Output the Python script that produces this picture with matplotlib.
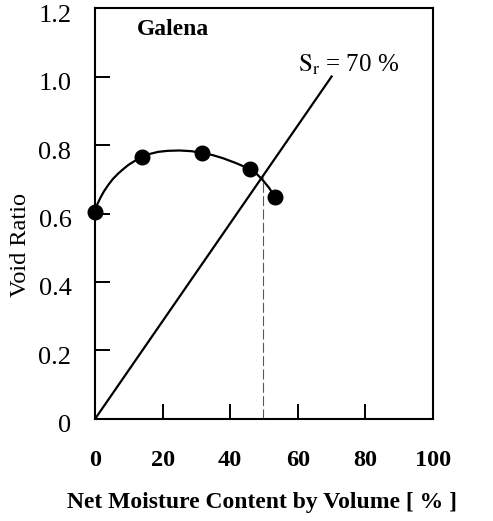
import numpy as np
import matplotlib
matplotlib.use('Agg')
import matplotlib.pyplot as plt
import matplotlib.transforms as mtransforms

plt.rcParams['font.family'] = ['Liberation Serif', 'DejaVu Serif']
plt.rcParams['mathtext.fontset'] = 'stix'

# compaction test points (net moisture by volume %, void ratio)
moist = [0.0, 14.0, 31.7, 45.8, 53.3]
void = [0.605, 0.766, 0.777, 0.730, 0.647]

# fitted curve through the test points
curve_x = [0.0, 0.6, 1.5, 2.6, 3.9, 5.3, 6.9, 8.4, 9.9, 12.0, 14.0, 16.2, 18.7,
           21.5, 25.0, 28.5, 31.7, 35.0, 38.0, 41.5, 45.8, 47.8, 49.5, 51.5, 53.3]
curve_y = [0.605, 0.625, 0.644, 0.664, 0.683, 0.701, 0.717, 0.730, 0.742, 0.755, 0.766, 0.774, 0.780,
           0.783, 0.784, 0.782, 0.777, 0.770, 0.761, 0.748, 0.730, 0.716, 0.699, 0.675, 0.647]

# degree of saturation line Sr = 70 %
sr_x = [0.0, 70.0]
sr_y = [0.0, 1.0]

# moisture content at intersection
w_opt = 49.7
e_opt = 0.707

xticks = [0, 20, 40, 60, 80, 100]
yticks = [0, 0.2, 0.4, 0.6, 0.8, 1.0, 1.2]
ylabels = ['0', '0.2', '0.4', '0.6', '0.8', '1.0', '1.2']

fig = plt.figure(figsize=(4.93, 5.21), dpi=100)
ax = fig.add_axes([0.1927, 0.1958, 0.6856, 0.7888])

ax.plot(curve_x, curve_y, 'k-', lw=1.6, solid_joinstyle='round')
ax.plot(moist, void, 'ko', ms=10.5, clip_on=False)
ax.plot(sr_x, sr_y, 'k-', lw=1.6)
ax.plot([w_opt, w_opt], [0, e_opt], color='0.35', lw=0.8, ls=(0, (9, 3)))

ax.text(23, 1.137, 'Galena', fontsize=17, fontweight='bold', ha='center', va='center')
ax.text(75, 1.035, r'$\mathrm{S_r}$ = 70 %', fontsize=18, ha='center', va='center')

ax.set_xlim(0, 100)
ax.set_ylim(0, 1.2)
ax.set_xticks(xticks)
ax.set_xticklabels([str(t) for t in xticks], fontsize=17.5, fontweight='bold')
ax.set_yticks(yticks)
ax.set_yticklabels(ylabels, fontsize=19)
ax.tick_params(direction='in', length=11, width=1.4)
ax.tick_params(axis='x', pad=22)
ax.tick_params(axis='y', pad=17)
for s in ax.spines.values():
    s.set_linewidth(1.5)

# y tick labels sit a little below their ticks
shift = mtransforms.ScaledTranslation(0, -0.05, fig.dpi_scale_trans)
for lab in ax.get_yticklabels():
    lab.set_transform(lab.get_transform() + shift)

ax.set_xlabel('Net Moisture Content by Volume [ % ]', fontsize=17, fontweight='bold')
ax.set_ylabel('Void Ratio', fontsize=17.5)
ax.xaxis.set_label_coords(0.494, -0.204)
ax.xaxis.label.set_va('center')
ax.yaxis.set_label_coords(-0.219, 0.423)
ax.yaxis.label.set_va('center')

fig.savefig('out.png', dpi=100)
